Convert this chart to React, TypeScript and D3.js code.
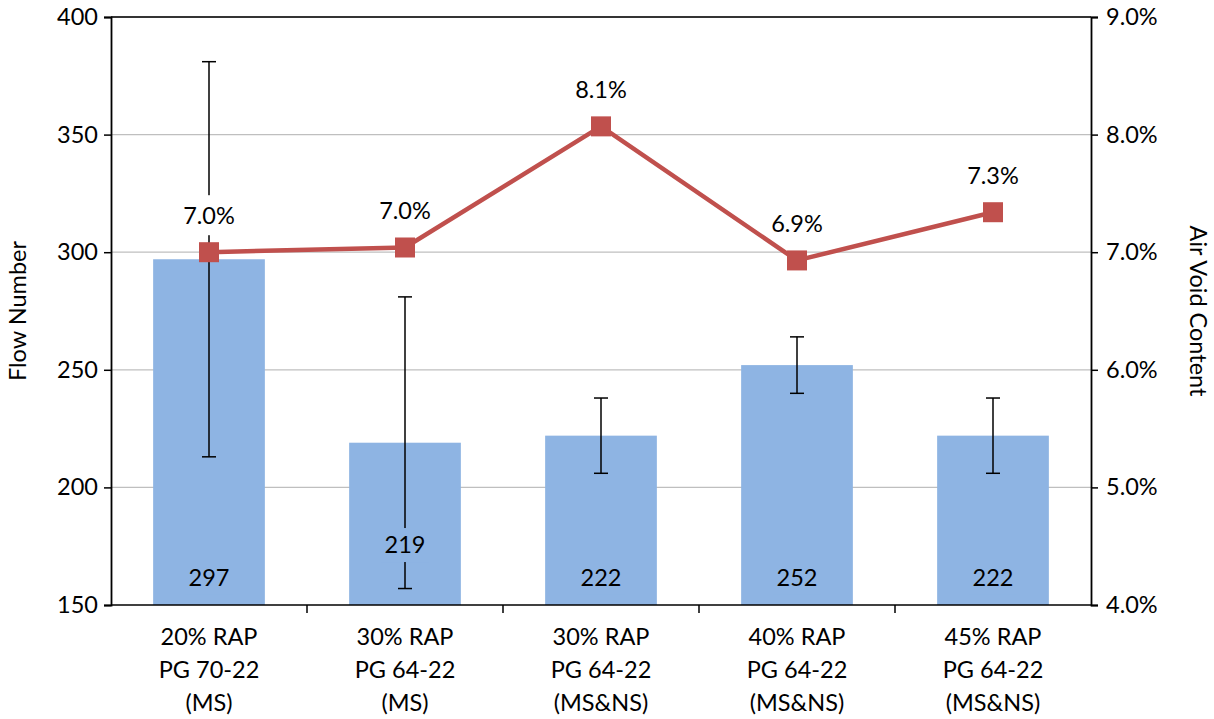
import { useEffect, useRef } from "react";
import * as d3 from "d3";

const categories = [
  ["20% RAP", "PG 70-22", "(MS)"],
  ["30% RAP", "PG 64-22", "(MS)"],
  ["30% RAP", "PG 64-22", "(MS&NS)"],
  ["40% RAP", "PG 64-22", "(MS&NS)"],
  ["45% RAP", "PG 64-22", "(MS&NS)"],
];
const flowNumber = [297, 219, 222, 252, 222];
const flowError = [84, 62, 16, 12, 16];
const airVoid = [7.0, 7.04, 8.07, 6.93, 7.34];
const leftTicks = [150, 200, 250, 300, 350, 400];
const rightTicks = [4, 5, 6, 7, 8, 9];
// where each bar's value label sits, in flow-number units
const valueLabelAt = [161.5, 175.5, 161.5, 161.5, 161.5];

export default function App() {
  const svgRef = useRef<SVGSVGElement>(null);

  useEffect(() => {
    if (!svgRef.current) return;
    const width = 1214;
    const height = 719;
    const margin = { top: 17, right: 123, bottom: 114, left: 111 };
    const innerW = width - margin.left - margin.right;
    const innerH = height - margin.top - margin.bottom;
    const font = "Lato, 'Open Sans', sans-serif";
    const fs = 23.5;

    const svg = d3.select(svgRef.current);
    svg.selectAll("*").remove();
    svg.attr("width", width).attr("height", height);

    const g = svg.append("g").attr("transform", `translate(${margin.left},${margin.top})`);

    const idx = categories.map((_, i) => String(i));
    const x = d3.scaleBand<string>().domain(idx).range([0, innerW]).paddingInner(0.43).paddingOuter(0.215);
    const step = innerW / categories.length;
    const yL = d3.scaleLinear().domain([150, 400]).range([innerH, 0]);
    const yR = d3.scaleLinear().domain([4, 9]).range([innerH, 0]);
    const cxOf = (i: number) => x(String(i))! + x.bandwidth() / 2;

    // gridlines
    g.selectAll(".grid")
      .data(leftTicks.slice(1))
      .join("line")
      .attr("x1", 0)
      .attr("x2", innerW)
      .attr("y1", (d) => yL(d))
      .attr("y2", (d) => yL(d))
      .attr("stroke", "#bfbfbf")
      .attr("stroke-width", 1.3);

    // bars
    g.selectAll(".bar")
      .data(flowNumber)
      .join("rect")
      .attr("x", (_, i) => x(String(i))!)
      .attr("width", x.bandwidth())
      .attr("y", (d) => yL(d))
      .attr("height", (d) => innerH - yL(d))
      .attr("fill", "#8eb4e3");

    // error bars
    flowNumber.forEach((v, i) => {
      const cx = cxOf(i);
      const top = yL(v + flowError[i]);
      const bot = yL(v - flowError[i]);
      g.append("line").attr("x1", cx).attr("x2", cx).attr("y1", top).attr("y2", bot).attr("stroke", "#000").attr("stroke-width", 1.5);
      [top, bot].forEach((yy) =>
        g.append("line").attr("x1", cx - 7).attr("x2", cx + 7).attr("y1", yy).attr("y2", yy).attr("stroke", "#000").attr("stroke-width", 1.5)
      );
    });

    // label backgrounds (hide the error bars behind the labels)
    flowNumber.forEach((_, i) => {
      const yy = yL(valueLabelAt[i]);
      g.append("rect").attr("x", cxOf(i) - 24).attr("y", yy - 17).attr("width", 48).attr("height", 34).attr("fill", "#8eb4e3");
    });
    airVoid.forEach((v, i) => {
      const yy = yR(v) - 37;
      g.append("rect").attr("x", cxOf(i) - 32).attr("y", yy - 20).attr("width", 64).attr("height", 40).attr("fill", "#fff");
    });

    // line
    const line = d3
      .line<number>()
      .x((_, i) => cxOf(i))
      .y((d) => yR(d));
    g.append("path").datum(airVoid).attr("d", line).attr("fill", "none").attr("stroke", "#c0504d").attr("stroke-width", 4.5);
    g.selectAll(".marker")
      .data(airVoid)
      .join("rect")
      .attr("x", (_, i) => cxOf(i) - 10)
      .attr("y", (d) => yR(d) - 10)
      .attr("width", 20)
      .attr("height", 20)
      .attr("fill", "#c0504d");

    // bar value labels
    flowNumber.forEach((v, i) => {
      g.append("text")
        .attr("x", cxOf(i))
        .attr("y", yL(valueLabelAt[i]))
        .attr("dy", "0.36em")
        .attr("text-anchor", "middle")
        .attr("font-family", font)
        .attr("font-size", fs)
        .attr("fill", "#000")
        .text(String(v));
    });

    // percent labels
    airVoid.forEach((v, i) => {
      g.append("text")
        .attr("x", cxOf(i))
        .attr("y", yR(v) - 37)
        .attr("dy", "0.36em")
        .attr("text-anchor", "middle")
        .attr("font-family", font)
        .attr("font-size", fs)
        .attr("fill", "#000")
        .text(`${v.toFixed(1)}%`);
    });

    // axes frame
    g.append("line").attr("x1", 0).attr("x2", innerW).attr("y1", 0).attr("y2", 0).attr("stroke", "#000").attr("stroke-width", 1.5);
    g.append("line").attr("x1", 0).attr("x2", innerW).attr("y1", innerH).attr("y2", innerH).attr("stroke", "#000").attr("stroke-width", 1.5);

    const leftAxis = g
      .append("g")
      .call(d3.axisLeft(yL).tickValues(leftTicks).tickSize(7).tickPadding(6).tickFormat(d3.format("d")));
    const rightAxis = g
      .append("g")
      .attr("transform", `translate(${innerW},0)`)
      .call(d3.axisRight(yR).tickValues(rightTicks).tickSize(7).tickPadding(8).tickFormat((d) => `${(+d).toFixed(1)}%`));
    [leftAxis, rightAxis].forEach((a) => {
      a.select(".domain").attr("stroke", "#000").attr("stroke-width", 1.8);
      a.selectAll(".tick line").attr("stroke", "#000").attr("stroke-width", 1.5);
      a.selectAll("text").attr("font-family", font).attr("font-size", fs).attr("fill", "#000");
    });

    // category tick marks at boundaries
    d3.range(1, categories.length).forEach((k) => {
      g.append("line").attr("x1", k * step).attr("x2", k * step).attr("y1", innerH).attr("y2", innerH + 8).attr("stroke", "#000").attr("stroke-width", 1.5);
    });

    // category labels
    categories.forEach((lines, i) => {
      lines.forEach((t, j) => {
        g.append("text")
          .attr("x", cxOf(i))
          .attr("y", innerH + 32 + j * 33)
          .attr("dy", "0.36em")
          .attr("text-anchor", "middle")
          .attr("font-family", font)
          .attr("font-size", fs)
          .attr("fill", "#000")
          .text(t);
      });
    });

    // axis titles
    svg
      .append("text")
      .attr("transform", `translate(18,${margin.top + innerH / 2}) rotate(-90)`)
      .attr("text-anchor", "middle")
      .attr("dy", "0.36em")
      .attr("font-family", font)
      .attr("font-size", fs)
      .attr("fill", "#000")
      .text("Flow Number");
    svg
      .append("text")
      .attr("transform", `translate(1198,${margin.top + innerH / 2}) rotate(90)`)
      .attr("text-anchor", "middle")
      .attr("dy", "0.36em")
      .attr("font-family", font)
      .attr("font-size", fs)
      .attr("fill", "#000")
      .text("Air Void Content");
  }, []);

  return (
    <div style={{ position: "absolute", left: 0, top: 0, background: "#fff" }}>
      <svg ref={svgRef} style={{ display: "block" }} />
    </div>
  );
}
